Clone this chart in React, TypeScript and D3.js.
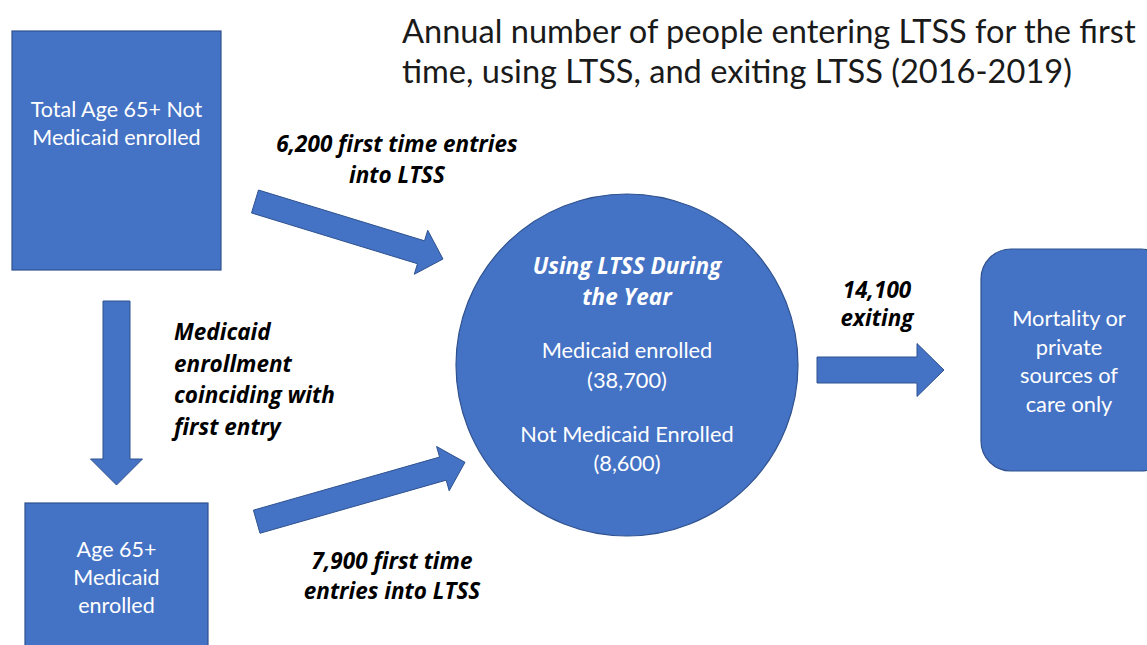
import React from "react";
import * as d3 from "d3";

// ---- content ----
const titleLines = [
  "Annual number of people entering LTSS for the first",
  "time, using LTSS, and exiting LTSS (2016-2019)",
];
const notEnrolledBox = ["Total Age 65+ Not", "Medicaid enrolled"];
const enrolledBox = ["Age 65+", "Medicaid", "enrolled"];
const outcomeBox = ["Mortality or", "private", "sources of", "care only"];
const circleTitle = ["Using LTSS During", "the Year"];
const circleGroups = ["Medicaid enrolled", "Not Medicaid Enrolled"];
const circleCounts = [38700, 8600];
const firstEntryCounts = [6200, 7900];
const exitingCount = 14100;
const coincidingLabel = ["Medicaid", "enrollment", "coinciding with", "first entry"];

const fmt = d3.format(",");

// ---- style ----
const FILL = "#4472C4";
const STROKE = "#2F528F";
const FONT = "Lato, 'Open Sans', sans-serif";
const BFONT = "'Open Sans', Lato, sans-serif";

type Pt = [number, number];
function arrowPath(tail: Pt, tip: Pt, shaftW: number, headW: number, headL: number) {
  const dx = tip[0] - tail[0];
  const dy = tip[1] - tail[1];
  const len = Math.hypot(dx, dy);
  const ux = dx / len, uy = dy / len;
  const px = -uy, py = ux;
  const bx = tip[0] - ux * headL, by = tip[1] - uy * headL;
  const p = d3.path();
  const s = shaftW / 2, h = headW / 2;
  p.moveTo(tail[0] + px * s, tail[1] + py * s);
  p.lineTo(bx + px * s, by + py * s);
  p.lineTo(bx + px * h, by + py * h);
  p.lineTo(tip[0], tip[1]);
  p.lineTo(bx - px * h, by - py * h);
  p.lineTo(bx - px * s, by - py * s);
  p.lineTo(tail[0] - px * s, tail[1] - py * s);
  p.closePath();
  return p.toString();
}

function Lines({ lines, x, y0, dy, size, anchor = "middle", bold = false, italic = false, fill = "#fff" }: any) {
  return (
    <text fontFamily={bold ? BFONT : FONT} fontSize={size} fill={fill} textAnchor={anchor}
      fontWeight={bold ? 700 : 400} fontStyle={italic ? "italic" : "normal"}>
      {lines.map((l: string, i: number) => (
        <tspan key={i} x={x} y={y0 + i * dy}>{l}</tspan>
      ))}
    </text>
  );
}

export default function App() {
  const W = 1147, H = 645;
  const cx = 627, cy = 365, r = 171;
  const BI = 22.5;
  return (
    <svg width={W} height={H} style={{ position: "absolute", left: 0, top: 0, background: "#fff" }}>
      {/* title */}
      <Lines lines={titleLines} x={402} y0={43} dy={40} size={32.6} anchor="start" fill="#1a1a1a" />

      {/* left top box */}
      <rect x={12} y={31} width={209} height={239} fill={FILL} stroke={STROKE} strokeWidth={1.2} />
      <Lines lines={notEnrolledBox} x={116.5} y0={117} dy={28} size={21.5} />

      {/* left bottom box */}
      <rect x={25} y={503} width={183} height={160} fill={FILL} stroke={STROKE} strokeWidth={1.2} />
      <Lines lines={enrolledBox} x={116.5} y0={557} dy={28} size={21.5} />

      {/* circle */}
      <circle cx={cx} cy={cy} r={r} fill={FILL} stroke={STROKE} strokeWidth={1.2} />
      <Lines lines={circleTitle} x={cx} y0={274} dy={31} size={BI} bold italic />
      <Lines lines={[circleGroups[0], `(${fmt(circleCounts[0])})`]} x={cx} y0={358} dy={30} size={21.8} />
      <Lines lines={[circleGroups[1], `(${fmt(circleCounts[1])})`]} x={cx} y0={442} dy={29} size={21.8} />

      {/* outcome box */}
      <rect x={981} y={249} width={190} height={222} rx={30} ry={30} fill={FILL} stroke={STROKE} strokeWidth={1.2} />
      <Lines lines={outcomeBox} x={1069} y0={326} dy={28.5} size={21.8} />

      {/* arrows */}
      <path d={arrowPath([255, 201.5], [443, 259], 24, 46, 23)} fill={FILL} stroke={STROKE} strokeWidth={1} />
      <path d={arrowPath([256.7, 521.7], [465, 462.3], 24, 46, 23)} fill={FILL} stroke={STROKE} strokeWidth={1} />
      <path d={arrowPath([116.5, 301], [116.5, 485], 27, 52, 26)} fill={FILL} stroke={STROKE} strokeWidth={1} />
      <path d={arrowPath([817, 370], [944, 370], 26, 53, 27)} fill={FILL} stroke={STROKE} strokeWidth={1} />

      {/* flow labels */}
      <Lines lines={[`${fmt(firstEntryCounts[0])} first time entries`, "into LTSS"]} x={397} y0={152} dy={31} size={BI} bold italic fill="#000" />
      <Lines lines={coincidingLabel} x={174} y0={340} dy={31.5} size={BI} anchor="start" bold italic fill="#000" />
      <Lines lines={[`${fmt(firstEntryCounts[1])} first time`, "entries into LTSS"]} x={392} y0={569} dy={30} size={BI} bold italic fill="#000" />
      <Lines lines={[fmt(exitingCount), "exiting"]} x={877} y0={298} dy={28} size={BI} bold italic fill="#000" />
    </svg>
  );
}
